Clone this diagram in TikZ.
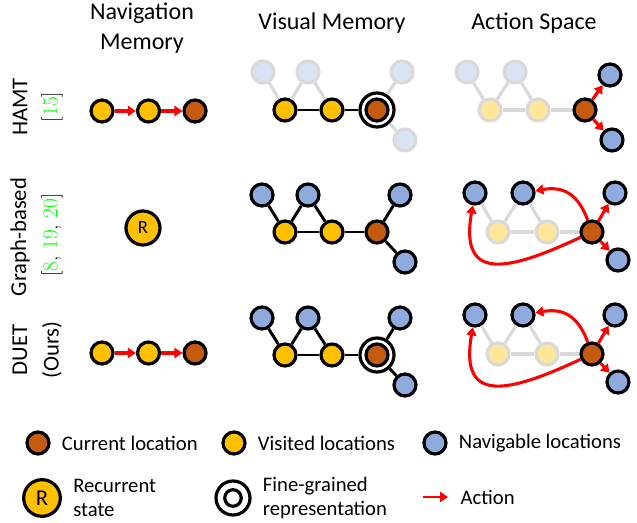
\documentclass[tikz,border=0pt]{standalone}
\usepackage{fontspec}
\usepackage{xcolor}
\usepackage{tikz}
\usetikzlibrary{positioning}
\usetikzlibrary{arrows.meta}

\newfontfamily\calib{Carlito}

\definecolor{curC}{HTML}{C55A11}
\definecolor{visC}{HTML}{FFC000}
\definecolor{navC}{HTML}{8FAADC}
\definecolor{fadeB}{HTML}{DAE3F3}
\definecolor{fadeY}{HTML}{FFE699}
\definecolor{fadeL}{HTML}{D9D9D9}
\definecolor{citeC}{HTML}{00FF00}

\tikzset{
	loc/.style={circle,draw=black,line width=2.4pt,minimum size=16.5pt,inner sep=0pt},
	cur/.style={loc,fill=curC},
	vis/.style={loc,fill=visC},
	nav/.style={loc,fill=navC},
	fvis/.style={loc,draw=fadeL,fill=fadeY},
	fnav/.style={loc,draw=fadeL,fill=fadeB},
	fine/.style={circle,draw=black,line width=2.4pt,minimum size=25.5pt,inner sep=0pt},
	rec/.style={loc,fill=visC,minimum size=25.5pt,font=\calib\fontsize{14}{16}\selectfont},
	link/.style={line width=2.2pt,black},
	flink/.style={line width=2.4pt,fadeL},
	act/.style={-{Triangle[length=6pt,width=7.5pt]},line width=2.3pt,red},
	head/.style={font=\calib\fontsize{18}{22}\selectfont,align=center},
	rowlab/.style={font=\calib\fontsize{17}{20}\selectfont,rotate=90},
	citelab/.style={font=\fontsize{16}{19}\selectfont,rotate=90},
	leg/.style={font=\calib\fontsize{15.5}{18}\selectfont,align=left},
}

\begin{document}
\begin{tikzpicture}[x=0.75pt,y=-0.75pt,node distance=16pt]
	\useasboundingbox (0,0) rectangle (637,523);
	
	% column heads
	\node[head] (tnav) at (142,28) {Navigation\\Memory};
	\node[head] (tvis) at (332,23) {Visual Memory};
	\node[head] (tact) at (534,23) {Action Space};
	
	% row heads
	\node[rowlab] (rhamt) at (20,107) {HAMT};
	\node[citelab] (chamt) at (52,107) {[\textcolor{citeC}{15}]};
	\node[rowlab] (rgraph) at (20,237) {Graph-based};
	\node[citelab] (cgraph) at (52,235) {[\textcolor{citeC}{8}, \textcolor{citeC}{19}, \textcolor{citeC}{20}]};
	\node[rowlab] (rduet) at (20,350) {DUET};
	\node[rowlab] (cduet) at (52,350) {(Ours)};
	
	% HAMT
	\node[vis] (hm1) at (102,111) {};
	\node[vis] (hm2) [right = of hm1] {};
	\node[cur] (hm3) [right = of hm2] {};
	\draw[act] (hm1) -- (hm2);
	\draw[act] (hm2) -- (hm3);
	
	\node[fnav] (hv1) at (263,72) {};
	\node[fnav] (hv2) at (308,72) {};
	\node[fnav] (hv3) at (402,72) {};
	\node[fnav] (hv4) at (405,140) {};
	\node[vis] (hv5) at (285,110) {};
	\node[vis] (hv6) at (332,110) {};
	\node[cur] (hv7) at (377,110) {};
	\node[fine] (hvf) at (hv7) {};
	\draw[flink] (hv1) -- (hv5);
	\draw[flink] (hv2) -- (hv5);
	\draw[flink] (hv2) -- (hv6);
	\draw[flink] (hv3) -- (hvf);
	\draw[flink] (hvf) -- (hv4);
	\draw[link] (hv5) -- (hv6);
	\draw[link] (hv6) -- (hvf);
	
	\node[fnav] (ha1) at (467,72) {};
	\node[fnav] (ha2) at (515,72) {};
	\node[fvis] (ha3) at (490,110) {};
	\node[fvis] (ha4) at (538,110) {};
	\node[cur] (ha5) at (585,110) {};
	\node[nav] (ha6) at (610,75) {};
	\node[nav] (ha7) at (612,140) {};
	\draw[flink] (ha1) -- (ha3);
	\draw[flink] (ha2) -- (ha3);
	\draw[flink] (ha2) -- (ha4);
	\draw[flink] (ha3) -- (ha4);
	\draw[flink] (ha4) -- (ha5);
	\draw[act] (ha5) -- (ha6);
	\draw[act] (ha5) -- (ha7);
	
	% Graph-based
	\node[rec] (gm1) at (143,228) {R};
	
	\node[nav] (gv1) at (262,195) {};
	\node[nav] (gv2) at (308,195) {};
	\node[nav] (gv3) at (400,195) {};
	\node[nav] (gv4) at (405,262) {};
	\node[vis] (gv5) at (285,232) {};
	\node[vis] (gv6) at (332,232) {};
	\node[cur] (gv7) at (377,232) {};
	\draw[link] (gv1) -- (gv5);
	\draw[link] (gv2) -- (gv5);
	\draw[link] (gv2) -- (gv6);
	\draw[link] (gv5) -- (gv6);
	\draw[link] (gv6) -- (gv7);
	\draw[link] (gv3) -- (gv7);
	\draw[link] (gv7) -- (gv4);
	
	\node[nav] (ga1) at (475,193) {};
	\node[nav] (ga2) at (523,193) {};
	\node[fvis] (ga3) at (498,232) {};
	\node[fvis] (ga4) at (547,232) {};
	\node[cur] (ga5) at (592,232) {};
	\node[nav] (ga6) at (615,193) {};
	\node[nav] (ga7) at (618,260) {};
	\draw[flink] (ga1) -- (ga3);
	\draw[flink] (ga2) -- (ga3);
	\draw[flink] (ga2) -- (ga4);
	\draw[flink] (ga3) -- (ga4);
	\draw[flink] (ga4) -- (ga5);
	\draw[act] (ga5) -- (ga6);
	\draw[act] (ga5) -- (ga7);
	\draw[act] (ga5) to[out=110,in=10,looseness=1.2] (ga2);
	\draw[act] (ga5) to[out=205,in=-100,looseness=1.8] (ga1);
	
	% DUET
	\node[vis] (dm1) at (102,353) {};
	\node[vis] (dm2) [right = of dm1] {};
	\node[cur] (dm3) [right = of dm2] {};
	\draw[act] (dm1) -- (dm2);
	\draw[act] (dm2) -- (dm3);
	
	\node[nav] (dv1) at (262,318) {};
	\node[nav] (dv2) at (308,318) {};
	\node[nav] (dv3) at (400,318) {};
	\node[nav] (dv4) at (405,385) {};
	\node[vis] (dv5) at (285,355) {};
	\node[vis] (dv6) at (332,355) {};
	\node[cur] (dv7) at (377,355) {};
	\node[fine] (dvf) at (dv7) {};
	\draw[link] (dv1) -- (dv5);
	\draw[link] (dv2) -- (dv5);
	\draw[link] (dv2) -- (dv6);
	\draw[link] (dv5) -- (dv6);
	\draw[link] (dv6) -- (dvf);
	\draw[link] (dv3) -- (dvf);
	\draw[link] (dvf) -- (dv4);
	
	\node[nav] (da1) at (475,315) {};
	\node[nav] (da2) at (523,315) {};
	\node[fvis] (da3) at (498,354) {};
	\node[fvis] (da4) at (547,354) {};
	\node[cur] (da5) at (592,354) {};
	\node[nav] (da6) at (615,315) {};
	\node[nav] (da7) at (618,382) {};
	\draw[flink] (da1) -- (da3);
	\draw[flink] (da2) -- (da3);
	\draw[flink] (da2) -- (da4);
	\draw[flink] (da3) -- (da4);
	\draw[flink] (da4) -- (da5);
	\draw[act] (da5) -- (da6);
	\draw[act] (da5) -- (da7);
	\draw[act] (da5) to[out=110,in=10,looseness=1.2] (da2);
	\draw[act] (da5) to[out=205,in=-100,looseness=1.8] (da1);
	
	% legend
	\node[cur] (kcur) at (38,443) {};
	\node[leg,right = 5pt of kcur] (tcur) {Current location};
	\node[vis] (kvis) at (234,443) {};
	\node[leg,right = 5pt of kvis] (tvisk) {Visited locations};
	\node[nav] (knav) at (435,443) {};
	\node[leg,right = 5pt of knav] (tnavk) {Navigable locations};
	
	\node[rec,minimum size=27.5pt,font=\calib\fontsize{17}{19}\selectfont] (krec) at (42,498) {R};
	\node[leg,right = 5pt of krec] (trec) {Recurrent\\state};
	\node[fine] (kfine) at (233,498) {};
	\node[loc,fill=white,minimum size=12.4pt] (kfin2) at (kfine) {};
	\node[leg,right = 5pt of kfine] (tfine) {Fine-grained\\representation};
	\coordinate (ka0) at (423,497);
	\coordinate (ka1) at (448,497);
	\draw[act,line width=2.2pt] (ka0) -- (ka1);
	\node[leg,right = 6pt of ka1] (tactk) {Action};
\end{tikzpicture}
\end{document}
